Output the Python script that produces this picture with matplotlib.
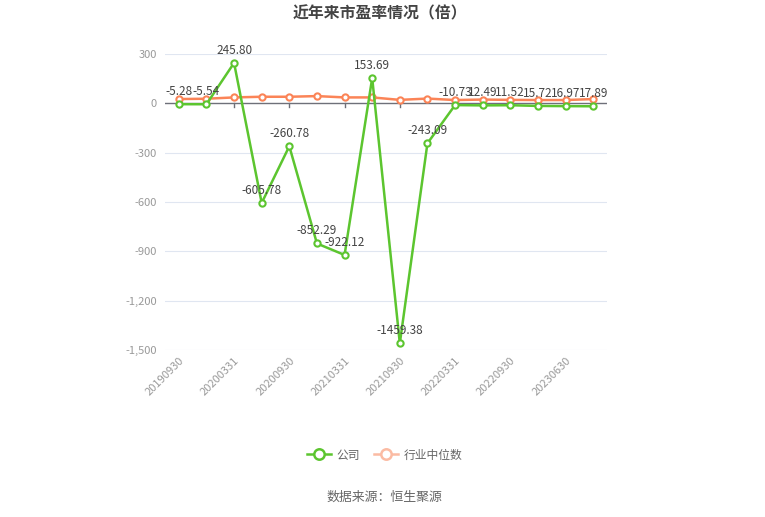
import matplotlib
matplotlib.use("Agg")
import matplotlib.pyplot as plt
from matplotlib.lines import Line2D

plt.rcParams['font.family'] = ['Noto Sans CJK SC', 'DejaVu Sans']

categories = ['20190930', '20191231', '20200331', '20200630', '20200930', '20201231',
              '20210331', '20210630', '20210930', '20211231', '20220331', '20220630',
              '20220930', '20230331', '20230630', '20230930']
company = [-5.28, -5.54, 245.80, -605.78, -260.78, -852.29, -922.12, 153.69,
           -1459.38, -243.09, -10.73, -12.49, -11.52, -15.72, -16.97, -17.89]
industry = [26, 28, 36, 40, 40, 44, 36, 36, 21, 29, 20, 23, 21, 20, 20, 26]
company_labels = ['-5.28', '-5.54', '245.80', '-605.78', '-260.78', '-852.29', '-922.12',
                  '153.69', '-1459.38', '-243.09', '-10.73', '12.49', '11.52', '15.72',
                  '16.97', '17.89']
yticks = [-1500, -1200, -900, -600, -300, 0, 300]
ytick_labels = ['-1,500', '-1,200', '-900', '-600', '-300', '0', '300']

green = '#5cc52f'
orange = '#fb8457'

fig = plt.figure(figsize=(7.65, 5.17), dpi=100)
ax = fig.add_axes([165/765, 1-350/517, (607-165)/765, (350-54)/517])

x = list(range(len(categories)))
ax.plot(x, industry, color=orange, lw=1.8, marker='o', ms=4.5, mfc='white',
        mec=orange, mew=1.5, zorder=3)
ax.plot(x, company, color=green, lw=1.8, marker='o', ms=4.5, mfc='white',
        mec=green, mew=1.5, zorder=4)

for xi, yi, lab in zip(x, company, company_labels):
    ax.annotate(lab, (xi, yi), xytext=(0, 4.5), textcoords='offset points',
                ha='center', va='bottom', fontsize=8.5, color='#444444',
                annotation_clip=False, zorder=5)

ax.set_xlim(-0.5, len(categories) - 0.5)
ax.set_ylim(-1500, 300)
ax.set_yticks(yticks)
ax.set_yticklabels(ytick_labels)
ax.set_xticks(x[::2])
ax.set_xticklabels(categories[::2], rotation=45, ha='right', rotation_mode='anchor')

for y in yticks:
    if y != 0:
        ax.axhline(y, color='#e0e6f1', lw=0.8, zorder=1)
ax.axhline(0, color='#6e7079', lw=1, zorder=2)
for xi in x[::2]:
    ax.plot([xi, xi], [0, -25], color='#6e7079', lw=1, zorder=2, clip_on=False)

for s in ax.spines.values():
    s.set_visible(False)
ax.tick_params(axis='both', length=0, colors='#999999', labelsize=8)
ax.tick_params(axis='y', pad=6)
ax.tick_params(axis='x', pad=4)

fig.text(0.497, 1-13/517, '近年来市盈率情况（倍）', ha='center', va='center',
         fontsize=11.4, fontweight='bold', color='#444444')

handles = [
    Line2D([0], [0], color=green, lw=1.8, marker='o', ms=7.5, mfc='white', mec=green, mew=1.8),
    Line2D([0], [0], color='#fbbba3', lw=1.8, marker='o', ms=7.5, mfc='white', mec='#fbbba3', mew=1.8),
]
fig.legend(handles, ['公司', '行业中位数'], loc='center', bbox_to_anchor=(0.503, 1-455/517),
           ncol=2, frameon=False, fontsize=8.5, handlelength=2.0, columnspacing=1.2,
           handletextpad=0.5, labelcolor='#666666')

fig.text(0.502, 1-497/517, '数据来源：恒生聚源', ha='center', va='center',
         fontsize=9.3, color='#666666')

fig.savefig('out.png', dpi=100)
